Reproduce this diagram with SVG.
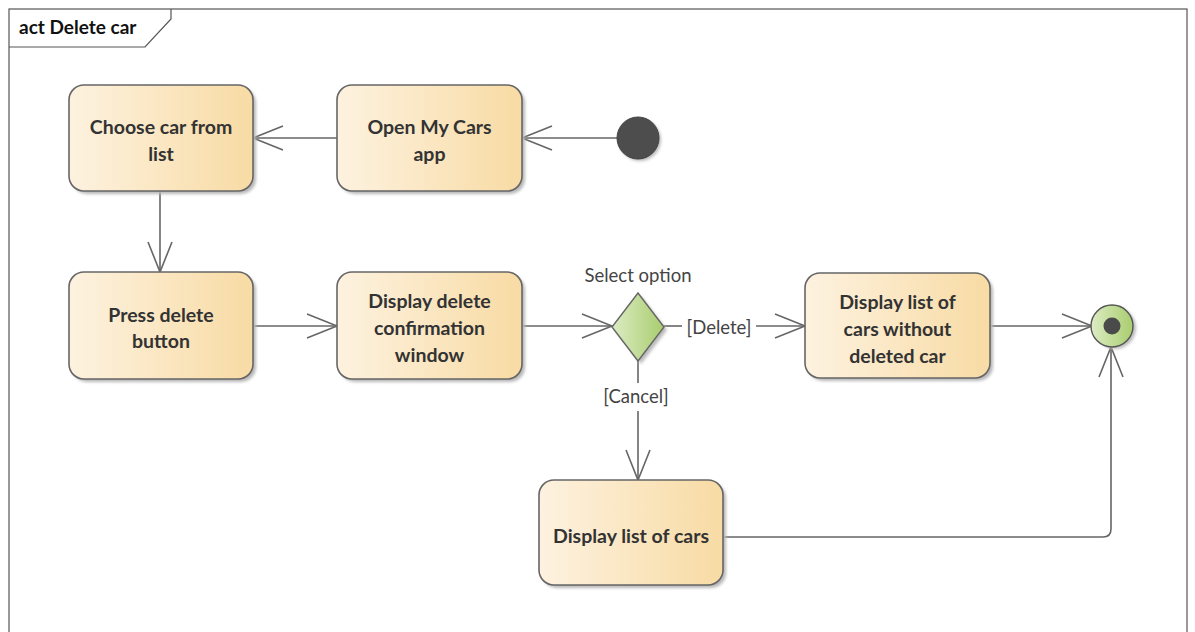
<svg xmlns="http://www.w3.org/2000/svg" width="1195" height="632" viewBox="0 0 1195 632">
<style>
.box{fill:url(#boxg);stroke:#666;stroke-width:1.6}
.shadow{fill:#b8b8b8;filter:url(#blur)}
.lbl{font-family:Lato,"Liberation Sans",sans-serif;font-weight:bold;font-size:19.5px;fill:#333;text-anchor:middle}
.small{font-family:Lato,"Liberation Sans",sans-serif;font-size:18.5px;fill:#444;text-anchor:middle}
.conn{fill:none;stroke:#666;stroke-width:1.6}
</style>
<defs>
<linearGradient id="boxg" x1="0" y1="0" x2="1" y2="0">
<stop offset="0" stop-color="#fdf2e0"/>
<stop offset="1" stop-color="#f8dba4"/>
</linearGradient>
<linearGradient id="greeng" x1="0" y1="0" x2="1" y2="0">
<stop offset="0" stop-color="#dcecc4"/>
<stop offset="1" stop-color="#a9cd6e"/>
</linearGradient>
<filter id="blur" x="-10%" y="-10%" width="130%" height="130%"><feGaussianBlur stdDeviation="1.5"/></filter>
<marker id="arr" markerWidth="34" markerHeight="28" refX="31" refY="13" orient="auto" markerUnits="userSpaceOnUse">
<path d="M1,1 L31,13 L1,25" fill="none" stroke="#666" stroke-width="1.6"/>
</marker>
</defs>
<rect width="1195" height="632" fill="#fff"/>
<g id="frame">
<rect x="9" y="9" width="1178" height="640" fill="none" stroke="#555" stroke-width="1.2"/>
<path d="M9,47 L145,47 L171,19 L171,9" fill="none" stroke="#555" stroke-width="1.2"/>
<text x="19" y="34" font-family="Lato,'Liberation Sans',sans-serif" font-weight="bold" font-size="19px" fill="#111">act Delete car</text>
</g>
<g id="connectors">
<line class="conn" x1="617" y1="138" x2="522" y2="138" marker-end="url(#arr)"/>
<line class="conn" x1="337" y1="138" x2="253" y2="138" marker-end="url(#arr)"/>
<line class="conn" x1="160" y1="191" x2="160" y2="272" marker-end="url(#arr)"/>
<line class="conn" x1="253" y1="326" x2="337" y2="326" marker-end="url(#arr)"/>
<line class="conn" x1="522" y1="326" x2="612" y2="326" marker-end="url(#arr)"/>
<line class="conn" x1="664" y1="326" x2="682" y2="326"/>
<line class="conn" x1="756" y1="326" x2="805" y2="326" marker-end="url(#arr)"/>
<text class="small" x="719" y="334">[Delete]</text>
<line class="conn" x1="638" y1="360" x2="638" y2="383"/>
<line class="conn" x1="638" y1="411" x2="638" y2="480" marker-end="url(#arr)"/>
<text class="small" x="636" y="403">[Cancel]</text>
<line class="conn" x1="990" y1="326" x2="1092" y2="326" marker-end="url(#arr)"/>
<path class="conn" d="M723,537 L1103,537 Q1111,537 1111,529 L1111,347" marker-end="url(#arr)"/>
</g>
<g id="start">
<circle cx="640" cy="140" r="21" fill="#bbb" filter="url(#blur)"/>
<circle cx="638" cy="138" r="21" fill="#4d4d4d" stroke="#444" stroke-width="1"/>
</g>
<g id="open-app">
<rect class="shadow" x="340" y="88" width="185" height="106" rx="15"/>
<rect class="box" x="337" y="85" width="185" height="106" rx="15"/>
<text class="lbl" x="429.5" y="134">Open My Cars</text>
<text class="lbl" x="429.5" y="161">app</text>
</g>
<g id="choose-car">
<rect class="shadow" x="72" y="88" width="184" height="106" rx="15"/>
<rect class="box" x="69" y="85" width="184" height="106" rx="15"/>
<text class="lbl" x="161" y="134">Choose car from</text>
<text class="lbl" x="161" y="161">list</text>
</g>
<g id="press-delete">
<rect class="shadow" x="72" y="275" width="184" height="107" rx="15"/>
<rect class="box" x="69" y="272" width="184" height="107" rx="15"/>
<text class="lbl" x="161" y="322">Press delete</text>
<text class="lbl" x="161" y="348">button</text>
</g>
<g id="confirm-window">
<rect class="shadow" x="340" y="275" width="185" height="107" rx="15"/>
<rect class="box" x="337" y="272" width="185" height="107" rx="15"/>
<text class="lbl" x="429.5" y="308">Display delete</text>
<text class="lbl" x="429.5" y="335">confirmation</text>
<text class="lbl" x="429.5" y="362">window</text>
</g>
<g id="decision">
<text class="small" x="638" y="282">Select option</text>
<polygon points="641,296 667,330 641,364 615,330" fill="#bbb" filter="url(#blur)"/>
<polygon points="638,293 664,327 638,361 612,327" fill="url(#greeng)" stroke="#666" stroke-width="1.4"/>
</g>
<g id="list-without">
<rect class="shadow" x="808" y="276" width="185" height="105" rx="15"/>
<rect class="box" x="805" y="273" width="185" height="105" rx="15"/>
<text class="lbl" x="897.5" y="309">Display list of</text>
<text class="lbl" x="897.5" y="336">cars without</text>
<text class="lbl" x="897.5" y="363">deleted car</text>
</g>
<g id="list-cars">
<rect class="shadow" x="542" y="483" width="184" height="105" rx="15"/>
<rect class="box" x="539" y="480" width="184" height="105" rx="15"/>
<text class="lbl" x="631" y="543">Display list of cars</text>
</g>
<g id="end">
<circle cx="1115" cy="328" r="21" fill="#bbb" filter="url(#blur)"/>
<circle cx="1112" cy="326" r="21" fill="url(#greeng)" stroke="#555" stroke-width="1.4"/>
<circle cx="1112" cy="326" r="8.5" fill="#4a4a4a"/>
</g>
</svg>
